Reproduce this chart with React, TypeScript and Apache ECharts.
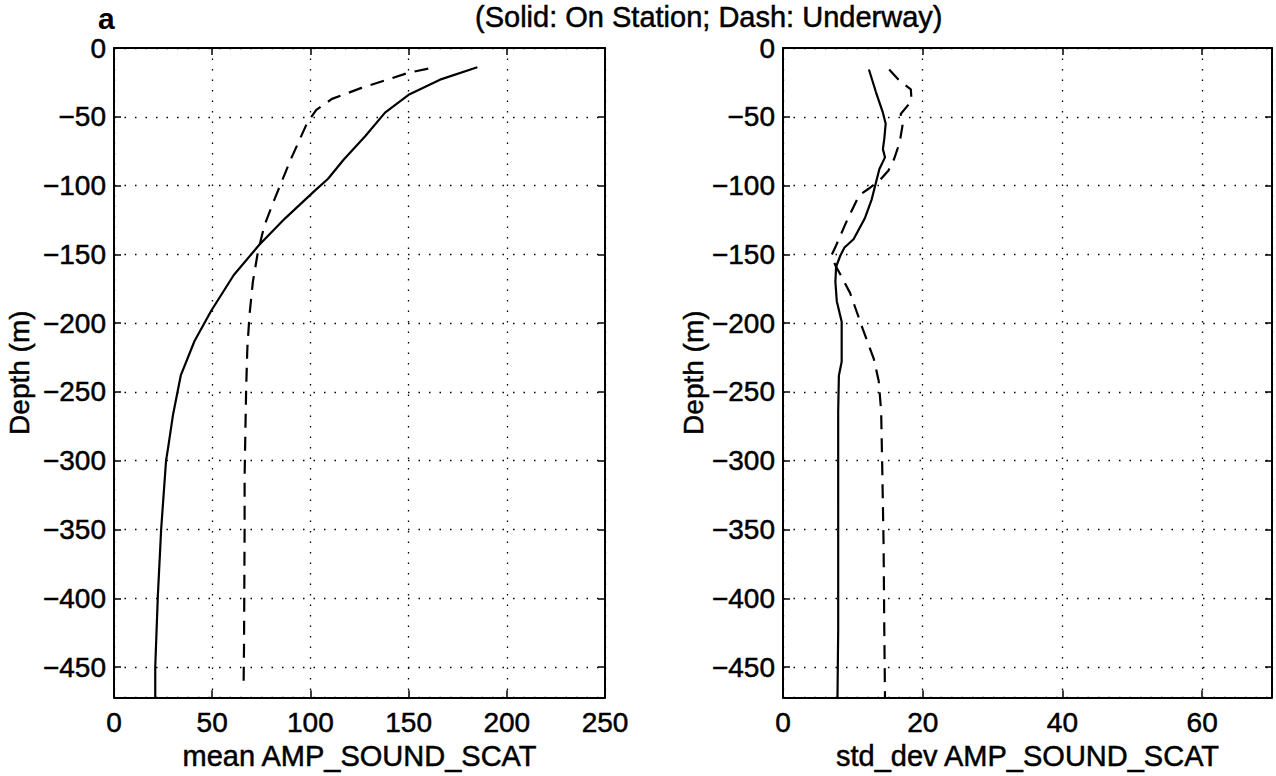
import React, { useEffect, useRef } from "react";
import * as echarts from "echarts";

// ---------- data (depth in m, negative downward) ----------
const MEAN_STATION_DEPTH = [-14, -23, -34, -47, -64, -81, -95, -104, -124, -143, -165, -191, -213, -238, -267, -291, -300, -350, -399, -450, -472];
const MEAN_STATION_VALUE = [185, 166, 150, 138, 128, 117, 109, 102, 87, 74, 61, 49.5, 41, 34, 30, 27.5, 26.5, 24, 22.3, 21, 21];

const MEAN_UNDERWAY_DEPTH = [-15, -18, -29, -37, -45, -54, -81, -110, -129, -148, -170, -194, -218, -247, -278, -312, -350, -435, -462];
const MEAN_UNDERWAY_VALUE = [160, 150, 126, 111, 103, 98.5, 90, 81.7, 76.6, 73.3, 70.7, 69, 67.9, 67.3, 66.9, 66.5, 66.5, 66.2, 66];

const STD_STATION_DEPTH = [-15.6, -32, -47, -55, -66, -73.5, -79.5, -88, -96, -110, -124, -139, -145, -151, -159, -170, -184, -199, -228, -238, -264, -303, -423, -472];
const STD_STATION_VALUE = [12.3, 13.3, 14.3, 14.7, 14.5, 14.3, 14.6, 13.8, 13.4, 12.7, 11.7, 10.1, 8.8, 8.2, 7.6, 7.5, 7.7, 8.4, 8.4, 8.0, 7.9, 7.9, 7.9, 7.8];

const STD_UNDERWAY_DEPTH = [-15.6, -24, -30, -38.5, -48, -56.6, -68.7, -80.7, -89, -96.5, -102.5, -107, -126.6, -144.7, -150.7, -158, -165, -178, -204, -226, -242, -264, -303, -361, -423, -472];
const STD_UNDERWAY_VALUE = [15.2, 16.7, 18.3, 18.4, 16.85, 17.1, 16.7, 15.9, 15.1, 13.8, 12.2, 10.9, 9.05, 7.5, 6.94, 7.5, 8.25, 9.6, 11.4, 13.0, 13.7, 14.05, 14.2, 14.4, 14.5, 14.6];

const DEPTH_LIMIT = 472;
const DEPTH_STEP = 50;
const MEAN_X_MAX = 250;
const MEAN_X_STEP = 50;
const STD_X_MAX = 70;
const STD_X_STEP = 20;

const TITLE = "(Solid: On Station; Dash: Underway)";
const PANEL_LETTER = "a";
const Y_NAME = "Depth (m)";
const MEAN_X_NAME = "mean AMP_SOUND_SCAT";
const STD_X_NAME = "std_dev AMP_SOUND_SCAT";

const FONT = '"Liberation Sans", Arial, Helvetica, sans-serif';
const INK = { color: "#000", fontFamily: FONT, textBorderColor: "#000", textBorderWidth: 0.5 };

const toPairs = (vals: number[], depths: number[]) =>
  vals.map((v, i) => [v, -depths[i]]);

const axisLineStyle = { color: "#000", width: 2 };
const tickStyle = { show: true, inside: true, length: 7, lineStyle: { color: "#000", width: 1.5 } };
const gridLine = { show: true, lineStyle: { color: "#000", width: 1.3, type: [1.5, 9] as any } };

function depthAxis(gridIndex: number, gap: number) {
  return {
    type: "value",
    gridIndex,
    inverse: true,
    min: 0,
    max: DEPTH_LIMIT,
    interval: DEPTH_STEP,
    name: Y_NAME,
    nameLocation: "middle",
    nameRotate: 90,
    nameGap: gap,
    nameTextStyle: { fontSize: 28, ...INK },
    axisLine: { show: true, onZero: false, lineStyle: axisLineStyle },
    axisTick: tickStyle,
    axisLabel: {
      fontSize: 28,
      ...INK,
      margin: 8,
      showMaxLabel: false,
      formatter: (v: number) => (v === 0 ? "0" : "\u2212" + v),
    },
    splitLine: gridLine,
  };
}

function depthBoxAxis(gridIndex: number) {
  return {
    type: "value",
    gridIndex,
    position: "right",
    inverse: true,
    min: 0,
    max: DEPTH_LIMIT,
    interval: DEPTH_STEP,
    axisLine: { show: true, onZero: false, lineStyle: axisLineStyle },
    axisTick: tickStyle,
    axisLabel: { show: false },
    splitLine: { show: false },
  };
}

function valueAxis(gridIndex: number, max: number, step: number, name: string, showMax: boolean) {
  return {
    type: "value",
    gridIndex,
    position: "bottom",
    min: 0,
    max,
    interval: step,
    name,
    nameLocation: "middle",
    nameGap: 41,
    nameTextStyle: { fontSize: 29, ...INK },
    axisLine: { show: true, onZero: false, lineStyle: axisLineStyle },
    axisTick: tickStyle,
    axisLabel: { fontSize: 28, ...INK, margin: 11, showMaxLabel: showMax },
    splitLine: gridLine,
  };
}

function valueBoxAxis(gridIndex: number, max: number, step: number) {
  return {
    type: "value",
    gridIndex,
    position: "top",
    min: 0,
    max,
    interval: step,
    axisLine: { show: true, onZero: false, lineStyle: axisLineStyle },
    axisTick: tickStyle,
    axisLabel: { show: false },
    splitLine: { show: false },
  };
}

function lineSeries(name: string, data: number[][], axis: number, dashed: boolean) {
  return {
    type: "line",
    name,
    xAxisIndex: axis,
    yAxisIndex: axis,
    data,
    showSymbol: false,
    symbol: "none",
    smooth: false,
    clip: true,
    lineStyle: { color: "#000", width: 2.2, type: dashed ? ([14, 9] as any) : "solid" },
  };
}

export default function App() {
  const ref = useRef<HTMLDivElement>(null);

  useEffect(() => {
    document.body.style.margin = "0";
    if (!ref.current) return;
    const chart = echarts.init(ref.current, undefined, { renderer: "svg" });
    chart.setOption({
      animation: false,
      backgroundColor: "#fff",
      textStyle: { fontFamily: FONT },
      title: [
        {
          text: TITLE,
          left: 475,
          top: 2,
          padding: 0,
          textStyle: { fontSize: 29, fontWeight: "normal", ...INK },
        },
        {
          text: PANEL_LETTER,
          left: 98,
          top: 3,
          padding: 0,
          textStyle: { fontSize: 30, lineHeight: 30, fontWeight: "bold", color: "#000", fontFamily: FONT },
        },
      ],
      grid: [
        { left: 114, top: 48, width: 491, height: 653, containLabel: false },
        { left: 783, top: 48, width: 489, height: 653, containLabel: false },
      ],
      xAxis: [
        valueAxis(0, MEAN_X_MAX, MEAN_X_STEP, MEAN_X_NAME, true),
        valueAxis(1, STD_X_MAX, STD_X_STEP, STD_X_NAME, false),
        valueBoxAxis(0, MEAN_X_MAX, MEAN_X_STEP),
        valueBoxAxis(1, STD_X_MAX, STD_X_STEP),
      ],
      yAxis: [depthAxis(0, 81), depthAxis(1, 70), depthBoxAxis(0), depthBoxAxis(1)],
      series: [
        lineSeries("Mean on station", toPairs(MEAN_STATION_VALUE, MEAN_STATION_DEPTH), 0, false),
        lineSeries("Mean underway", toPairs(MEAN_UNDERWAY_VALUE, MEAN_UNDERWAY_DEPTH), 0, true),
        lineSeries("Std on station", toPairs(STD_STATION_VALUE, STD_STATION_DEPTH), 1, false),
        lineSeries("Std underway", toPairs(STD_UNDERWAY_VALUE, STD_UNDERWAY_DEPTH), 1, true),
      ],
    });
    return () => chart.dispose();
  }, []);

  return <div ref={ref} style={{ width: 1276, height: 776 }} />;
}
